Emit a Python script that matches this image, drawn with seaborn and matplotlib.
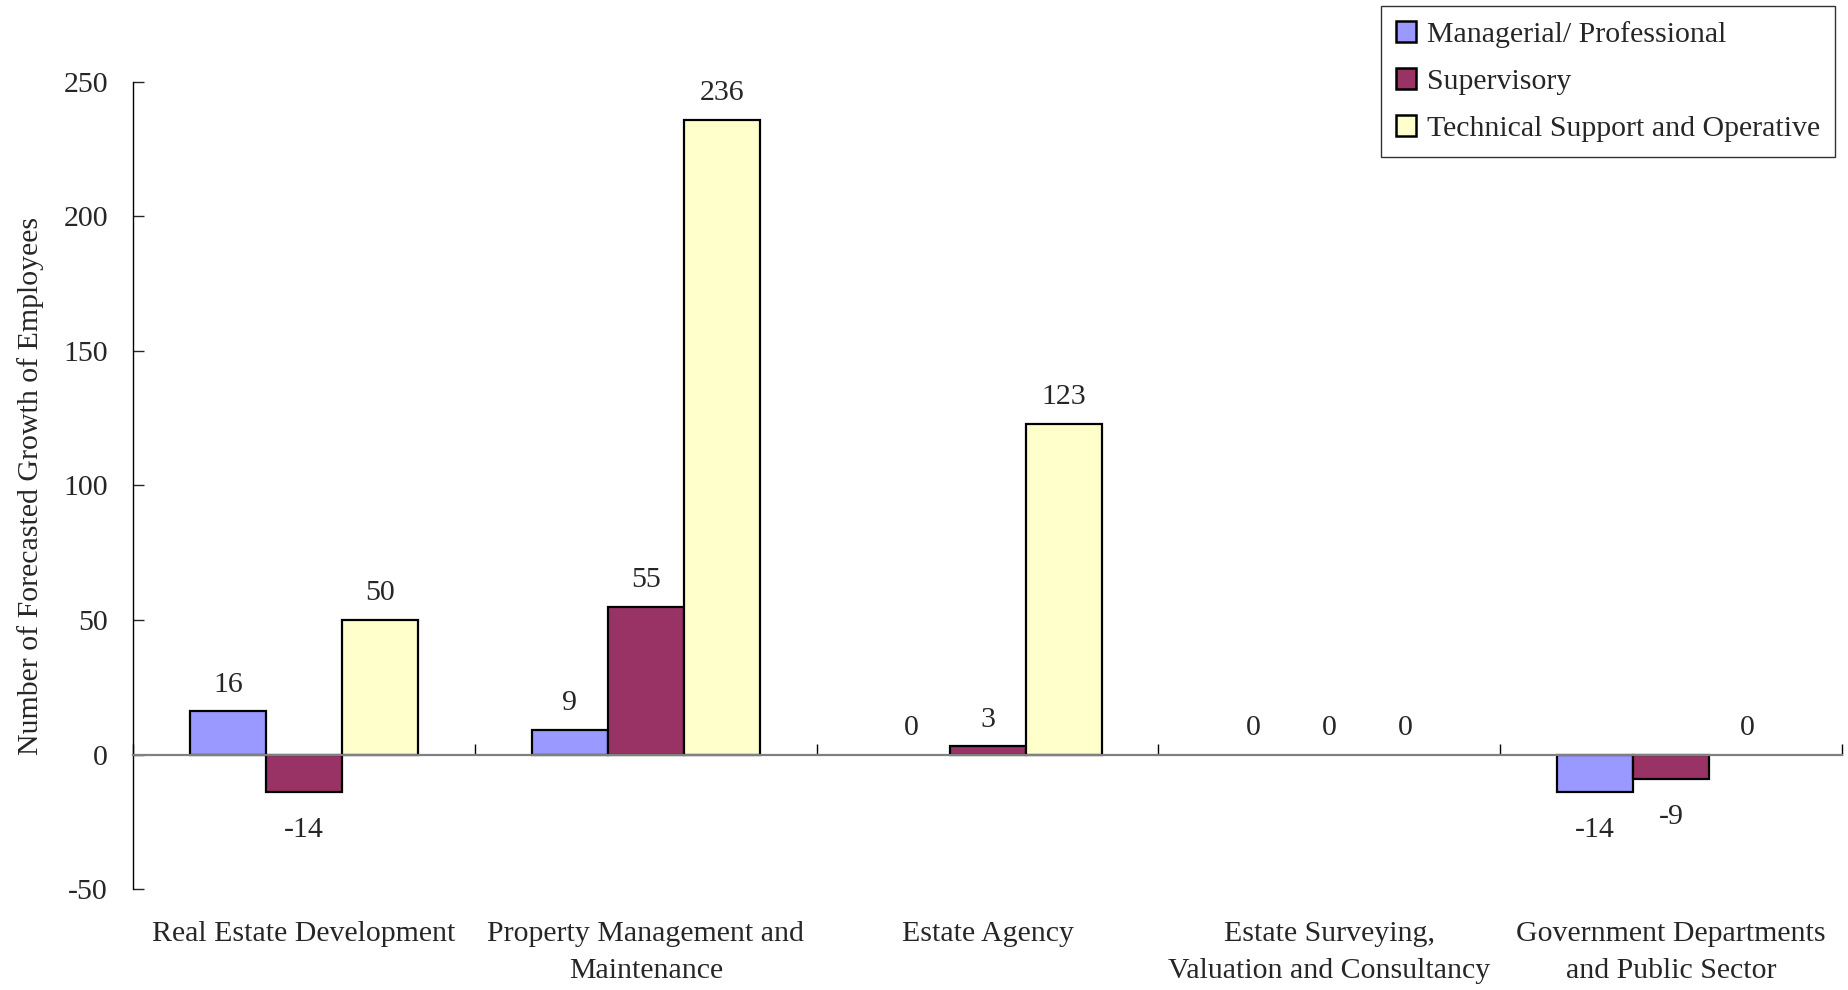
import matplotlib
matplotlib.use("Agg")
import matplotlib.pyplot as plt
import matplotlib.transforms as mtransforms
import seaborn as sns
import pandas as pd

# Forecasted growth of employees by sector and job level
sectors = [
    "Real Estate Development",
    "Property Management and\nMaintenance",
    "Estate Agency",
    "Estate Surveying,\nValuation and Consultancy",
    "Government Departments\nand Public Sector",
]
levels = ["Managerial/ Professional", "Supervisory", "Technical Support and Operative"]
managerial = [16, 9, 0, 0, -14]
supervisory = [-14, 55, 3, 0, -9]
technical = [50, 236, 123, 0, 0]
colors = ["#9999FF", "#993366", "#FFFFCC"]
y_ticks = [-50, 0, 50, 100, 150, 200, 250]

rows = []
for level, values in zip(levels, [managerial, supervisory, technical]):
    for sector, v in zip(sectors, values):
        rows.append({"sector": sector, "level": level, "value": v})
df = pd.DataFrame(rows)

sns.set_style("white")
plt.rcParams["font.family"] = ["Liberation Serif", "DejaVu Serif"]
FS = 21.5

fig = plt.figure(figsize=(18.48, 9.9), dpi=100)
ax = fig.add_axes([0.0720, 0.1020, 0.9248, 0.8152])

sns.barplot(
    data=df, x="sector", y="value", hue="level",
    order=sectors, hue_order=levels, palette=colors,
    edgecolor="black", linewidth=1.6, width=0.667, gap=0,
    errorbar=None, ax=ax, saturation=1,
)

# Zero-height bars carry no outline
for p in ax.patches:
    if abs(p.get_height()) < 1e-9:
        p.set_linewidth(0)

# Value labels: above positive bars, a little further below negative ones
for cont in ax.containers:
    anns = ax.bar_label(cont, fmt="%g", padding=10, fontsize=FS)
    for ann, bar in zip(anns, cont):
        if bar.get_height() < 0:
            ann.xyann = (0, -18)

ax.set_ylim(-50, 250)
ax.set_xlim(-0.5, len(sectors) - 0.5)
ax.set_yticks(y_ticks)
ax.set_yticklabels([str(t) for t in y_ticks], fontsize=FS)
ax.tick_params(axis="y", direction="in", length=8, width=1, pad=18, left=True)

# Category axis drawn at zero with boundary ticks
ax.spines["bottom"].set_position(("data", 0))
ax.spines["bottom"].set_color("#808080")
ax.spines["bottom"].set_linewidth(1.6)
ax.spines["left"].set_color("black")
ax.spines["left"].set_linewidth(1.0)
ax.spines["top"].set_visible(False)
ax.spines["right"].set_visible(False)
ax.set_xticks([i - 0.5 for i in range(len(sectors) + 1)])
ax.set_xticklabels([])
ax.tick_params(axis="x", direction="in", length=8, width=1, color="black", bottom=True)

trans = mtransforms.blended_transform_factory(ax.transData, ax.transAxes)
for i, s in enumerate(sectors):
    ax.text(i, -0.040, s, transform=trans, ha="center", va="top",
            fontsize=FS, linespacing=1.55, multialignment="center")

ax.set_xlabel("")
ax.set_ylabel("Number of Forecasted Growth of Employees", fontsize=FS, labelpad=14)

handles, labels = ax.get_legend_handles_labels()
if ax.get_legend() is not None:
    ax.get_legend().remove()
leg = fig.legend(
    handles, labels, loc="upper right",
    bbox_to_anchor=(1835 / 1848, 1 - 6 / 990),
    fontsize=FS, frameon=True, fancybox=False, shadow=False,
    handlelength=0.7, handleheight=0.7, handletextpad=0.35,
    labelspacing=0.68, borderpad=0.5, borderaxespad=0,
)
for h in leg.legend_handles:
    h.set_edgecolor("black")
    h.set_linewidth(1.8)
leg.get_frame().set_edgecolor("black")
leg.get_frame().set_linewidth(1.0)

fig.savefig("out.png", dpi=100)
